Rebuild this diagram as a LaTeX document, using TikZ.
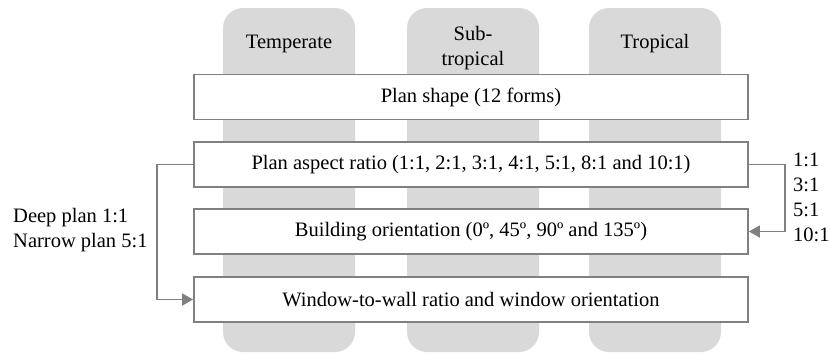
\documentclass[tikz,border=0pt]{standalone}
\usepackage{fontspec}
\setmainfont{Liberation Serif}
\usetikzlibrary{arrows.meta}
\definecolor{colgray}{HTML}{D9D9D9}
\definecolor{linegray}{HTML}{808080}
\begin{document}
\begin{tikzpicture}[x=1pt,y=-1pt,
  txt/.style={font=\fontsize{20.5}{25}\selectfont, inner sep=0pt},
  column/.style={fill=colgray, rounded corners=20pt},
  stagebox/.style={draw=linegray, line width=1.8pt, fill=white, minimum width=554pt, minimum height=45pt, inner sep=0pt, font=\fontsize{20.5}{25}\selectfont},
  conn/.style={draw=linegray, line width=1.8pt, -{Triangle[length=11pt,width=12pt]}}
]
\useasboundingbox (0,0) rectangle (830,354);
% climate columns
\fill[column] (223,8) rectangle (355,352);
\fill[column] (407,8) rectangle (539,352);
\fill[column] (589,8) rectangle (721,352);
\node[txt] (temp) at (289,44) {Temperate};
\node[txt, align=center] (sub) at (473,48) {Sub-\\tropical};
\node[txt] (trop) at (655,44) {Tropical};
% stage boxes
\node[stagebox] (b1) at (471,97) {Plan shape (12 forms)};
\node[stagebox] (b2) at (471,164.5) {Plan aspect ratio (1:1, 2:1, 3:1, 4:1, 5:1, 8:1 and 10:1)};
\node[stagebox] (b3) at (471,231.5) {Building orientation (0º, 45º, 90º and 135º)};
\node[stagebox] (b4) at (471,299.5) {Window-to-wall ratio and window orientation};
% connectors
\coordinate (lc) at (157,164.5);
\coordinate (rc) at (785,164.5);
\draw[conn] (b2.west) -- (lc) |- (b4.west);
\draw[conn] (b2.east) -- (rc) |- (b3.east);
% side labels
\node[txt, align=left, anchor=west] (ll) at (13,230) {Deep plan 1:1\\Narrow plan 5:1};
\node[txt, align=left, anchor=west] (rl) at (793,197) {1:1\\3:1\\5:1\\10:1};
\end{tikzpicture}
\end{document}
